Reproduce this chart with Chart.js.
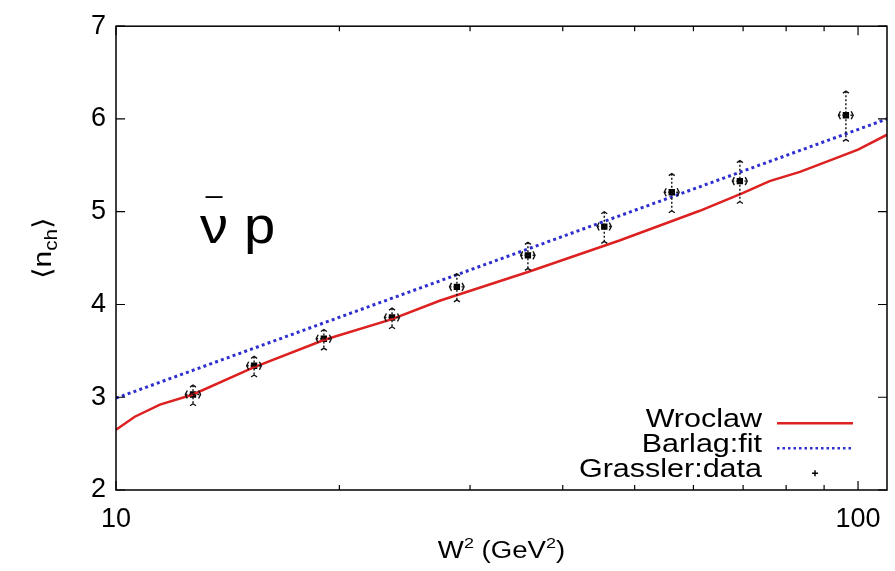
<!DOCTYPE html>
<html>
<head>
<meta charset="utf-8">
<script src="https://cdn.jsdelivr.net/npm/chart.js@4"></script>
<style>
html,body{margin:0;padding:0;background:#fff;}
#wrap{width:895px;height:571px;position:relative;}
</style>
</head>
<body>
<div id="wrap"><canvas id="c" width="895" height="571"></canvas></div>
<script>
// ---- data ----
const xTickValues = [10, 20, 30, 40, 50, 60, 70, 80, 90, 100];
const xTickLabels = ['10', '', '', '', '', '', '', '', '', '100'];
const yTickValues = [2, 3, 4, 5, 6, 7];
const xMin = 10, xMax = 109.4, yMin = 2, yMax = 7;

const grasslerW2 = [12.7, 15.35, 19.06, 23.55, 28.8, 35.9, 45.5, 56.1, 69.3, 96.3];
const grasslerN = [3.03, 3.34, 3.63, 3.86, 4.19, 4.53, 4.84, 5.21, 5.33, 6.04];
const grasslerNErr = [0.1, 0.1, 0.1, 0.1, 0.14, 0.14, 0.16, 0.2, 0.22, 0.26];
const grasslerW2Err = [0.3, 0.35, 0.45, 0.55, 0.65, 0.8, 1.0, 1.3, 1.6, 2.2];

const wroclawW2 = [10, 10.6, 11.46, 12.7, 15.3, 19.1, 23.5, 27.3, 35.9, 47.7, 61.2, 69.9, 76, 83.5, 91.5, 100, 109.4];
const wroclawN = [2.65, 2.79, 2.92, 3.03, 3.32, 3.62, 3.84, 4.04, 4.35, 4.69, 5.01, 5.20, 5.33, 5.43, 5.55, 5.67, 5.83];

const barlagW2 = [10, 109.4];
const barlagN = [2.99, 6.0];

const legendLabels = ['Wroclaw', 'Barlag:fit', 'Grassler:data'];
const processNu = 'ν', processBar = '\u00AF', processP = 'p';
const yTitleMain = ['\u27E8n', 'ch', '\u27E9'];
const xTitleParts = ['W', '2', ' (GeV', '2', ')'];

const RED = '#dd2020';
const BLUE = '#2f2fd0';
const FONT = "'Liberation Sans', Arial, Helvetica, sans-serif";

const toXY = (xs, ys) => xs.map((x, i) => ({x: x, y: ys[i]}));

function stretchedText(ctx, text, x, y, sx, align) {
  ctx.save();
  ctx.translate(x, y);
  ctx.scale(sx, 1);
  ctx.textAlign = align;
  ctx.fillText(text, 0, 0);
  ctx.restore();
}

const decorPlugin = {
  id: 'decor',
  afterDatasetsDraw(chart) {
    const ctx = chart.ctx;
    const xs = chart.scales.x, ys = chart.scales.y;
    const a = chart.chartArea;
    ctx.save();
    // error bars for Grassler
    ctx.strokeStyle = '#111';
    ctx.fillStyle = '#000';
    ctx.lineWidth = 1.4;
    grasslerW2.forEach((w, i) => {
      const px = xs.getPixelForValue(w);
      const py = ys.getPixelForValue(grasslerN[i]);
      const pt = ys.getPixelForValue(grasslerN[i] + grasslerNErr[i]);
      const pb = ys.getPixelForValue(grasslerN[i] - grasslerNErr[i]);
      const pl = xs.getPixelForValue(w - grasslerW2Err[i]);
      const pr = xs.getPixelForValue(w + grasslerW2Err[i]);
      ctx.setLineDash([2, 2]);
      ctx.beginPath();
      ctx.moveTo(px, pt); ctx.lineTo(px, pb);
      ctx.moveTo(pl, py); ctx.lineTo(pr, py);
      ctx.stroke();
      ctx.setLineDash([]);
      ctx.beginPath();
      ctx.moveTo(px - 3, pt + 2); ctx.lineTo(px, pt); ctx.lineTo(px + 3, pt + 2);
      ctx.moveTo(px - 3, pb + 2); ctx.lineTo(px, pb); ctx.lineTo(px + 3, pb + 2);
      ctx.moveTo(pl + 2, py - 4); ctx.lineTo(pl, py); ctx.lineTo(pl + 2, py + 4);
      ctx.moveTo(pr - 2, py - 4); ctx.lineTo(pr, py); ctx.lineTo(pr - 2, py + 4);
      ctx.stroke();
    });
    // frame
    ctx.strokeStyle = '#000';
    ctx.lineWidth = 1.5;
    ctx.strokeRect(a.left, a.top, a.right - a.left, a.bottom - a.top);
    // inward ticks
    ctx.lineWidth = 1.2;
    ctx.beginPath();
    yTickValues.forEach(v => {
      const py = ys.getPixelForValue(v);
      ctx.moveTo(a.left, py); ctx.lineTo(a.left + 9, py);
      ctx.moveTo(a.right, py); ctx.lineTo(a.right - 9, py);
    });
    xTickValues.forEach((v, i) => {
      const px = xs.getPixelForValue(v);
      const len = (i === 0 || i === xTickValues.length - 1) ? 9 : 5;
      ctx.moveTo(px, a.bottom); ctx.lineTo(px, a.bottom - len);
      ctx.moveTo(px, a.top); ctx.lineTo(px, a.top + len);
    });
    ctx.stroke();
    // legend
    ctx.font = '25px ' + FONT;
    ctx.fillStyle = '#000';
    ctx.textBaseline = 'middle';
    const lx = a.right - 125, sx0 = a.right - 110, sx1 = a.right - 34;
    const rows = [a.top + 394, a.top + 419, a.top + 444];
    legendLabels.forEach((t, i) => stretchedText(ctx, t, lx, rows[i], 1.22, 'right'));
    ctx.lineWidth = 2.5;
    ctx.strokeStyle = RED;
    ctx.beginPath(); ctx.moveTo(sx0, rows[0] + 3); ctx.lineTo(sx1, rows[0] + 3); ctx.stroke();
    ctx.strokeStyle = BLUE;
    ctx.setLineDash([2.5, 3]);
    ctx.beginPath(); ctx.moveTo(sx0, rows[1] + 3); ctx.lineTo(sx1, rows[1] + 3); ctx.stroke();
    ctx.setLineDash([]);
    ctx.strokeStyle = '#000';
    ctx.lineWidth = 1.5;
    const cx = (sx0 + sx1) / 2, cy = rows[2] + 3;
    ctx.beginPath(); ctx.moveTo(cx - 3, cy); ctx.lineTo(cx + 3, cy); ctx.moveTo(cx, cy - 3); ctx.lineTo(cx, cy + 3); ctx.stroke();
    // process label
    ctx.textBaseline = 'alphabetic';
    ctx.font = '52px ' + FONT;
    const nuX = a.left + 84, baseY = a.top + 217;
    stretchedText(ctx, processNu, nuX, baseY, 1.08, 'left');
    const nuW = ctx.measureText(processNu).width * 1.08;
    ctx.font = '40px ' + FONT;
    stretchedText(ctx, processBar, nuX + nuW / 2, baseY - 16, 0.75, 'center');
    ctx.font = '52px ' + FONT;
    stretchedText(ctx, processP, nuX + nuW + 16, baseY, 1.08, 'left');
    // y title with subscript
    ctx.save();
    ctx.translate(42, a.top + 222);
    ctx.rotate(-Math.PI / 2);
    ctx.scale(1.15, 1);
    ctx.font = '26px ' + FONT;
    const w0 = ctx.measureText(yTitleMain[0]).width;
    ctx.font = '18px ' + FONT;
    const w1 = ctx.measureText(yTitleMain[1]).width;
    ctx.font = '26px ' + FONT;
    const w2 = ctx.measureText(yTitleMain[2]).width;
    let x0 = -(w0 + w1 + w2) / 2;
    ctx.textAlign = 'left';
    ctx.fillText(yTitleMain[0], x0, 9);
    ctx.font = '18px ' + FONT;
    ctx.fillText(yTitleMain[1], x0 + w0, 15);
    ctx.font = '26px ' + FONT;
    ctx.fillText(yTitleMain[2], x0 + w0 + w1, 9);
    ctx.restore();
    // x title with superscripts
    ctx.save();
    const big = '23px ' + FONT, small = '15px ' + FONT;
    const sizes = [big, small, big, small, big];
    const offs = [0, -10, 0, -10, 0];
    let widths = xTitleParts.map((t, i) => { ctx.font = sizes[i]; return ctx.measureText(t).width; });
    const total = widths.reduce((s, v) => s + v, 0) * 1.2;
    let tx = (a.left + a.right) / 2 - total / 2 + 0;
    const ty = 558;
    xTitleParts.forEach((t, i) => {
      ctx.font = sizes[i];
      stretchedText(ctx, t, tx, ty + offs[i], 1.2, 'left');
      tx += widths[i] * 1.2;
    });
    ctx.restore();
    ctx.restore();
  }
};

new Chart(document.getElementById('c'), {
  type: 'scatter',
  data: {
    datasets: [
      {
        label: 'Wroclaw',
        data: toXY(wroclawW2, wroclawN),
        showLine: true,
        borderColor: RED,
        borderWidth: 2.5,
        pointRadius: 0,
        tension: 0
      },
      {
        label: 'Barlag:fit',
        data: toXY(barlagW2, barlagN),
        showLine: true,
        borderColor: BLUE,
        borderWidth: 3,
        borderDash: [3, 3.2],
        pointRadius: 0
      },
      {
        label: 'Grassler:data',
        data: toXY(grasslerW2, grasslerN),
        showLine: false,
        pointStyle: 'rect',
        pointRadius: 4.5,
        backgroundColor: '#000',
        borderColor: '#000',
        borderWidth: 0
      }
    ]
  },
  plugins: [decorPlugin],
  options: {
    responsive: false,
    animation: false,
    layout: {padding: {left: 0, right: 8, top: 20, bottom: 0}},
    plugins: {legend: {display: false}, tooltip: {enabled: false}},
    scales: {
      x: {
        type: 'logarithmic',
        min: xMin,
        max: xMax,
        afterBuildTicks: (s) => { s.ticks = xTickValues.map(v => ({value: v})); },
        afterFit: (s) => { s.height = 81; },
        grid: {display: false, drawTicks: false},
        border: {display: false},
        ticks: {
          autoSkip: false,
          maxRotation: 0,
          padding: 13,
          color: '#000',
          font: {family: FONT, size: 27},
          callback: (v, i) => xTickLabels[i]
        }
      },
      y: {
        type: 'linear',
        min: yMin,
        max: yMax,
        afterBuildTicks: (s) => { s.ticks = yTickValues.map(v => ({value: v})); },
        afterFit: (s) => { s.width = 116; },
        grid: {display: false, drawTicks: false},
        border: {display: false},
        ticks: {
          padding: 10,
          color: '#000',
          font: {family: FONT, size: 27},
          callback: (v) => String(v)
        }
      }
    }
  }
});
</script>
</body>
</html>
